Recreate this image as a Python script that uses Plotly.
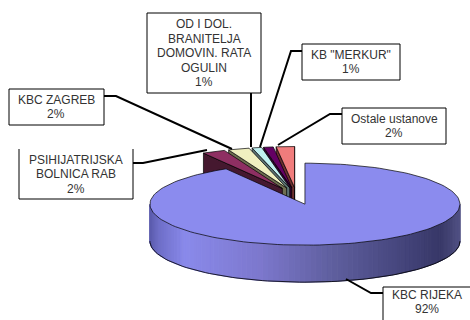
import numpy as np
import plotly.graph_objects as go

# order: clockwise from 12 o'clock
names = ['KBC RIJEKA', 'PSIHIJATRIJSKA<br>BOLNICA RAB', 'KBC ZAGREB', 'OD I DOL.<br>BRANITELJA<br>DOMOVIN. RATA<br>OGULIN', 'KB "MERKUR"', 'Ostale ustanove']
values = [91.5, 2.4, 2.2, 1.0, 1.0, 1.9]
shown = ['92%', '2%', '2%', '1%', '1%', '2%']
top_colors = ['#8B8BEE', '#8E2F62', '#F0F0C0', '#BFF0F0', '#640064', '#F07C7C']
side_colors = ['#6060A0', '#45182F', '#6E6E50', '#5A7070', '#300030', '#6E3030']

# pie geometry on the page
cx, cy = 296.5, 196
rx, ry = 155, 41
depth = 37
explode = 32

# label boxes: x0, y0, x1, y1
boxes = [(383, 287, 480, 330), (19, 149, 133, 199), (9, 89, 104, 125), (147, 13, 261, 93), (302, 44, 400, 80), (342, 108, 446, 144)]
text_x = [427, 76, 56, 204, 351, 394]
leaders = [
    ([383, 371, 346], [293, 293, 279]),
    ([133, 143, 207], [163, 163, 150]),
    ([104, 116, 232], [96, 96, 149]),
    ([251, 251], [93, 147]),
    ([302, 291, 260], [51, 51, 147]),
    ([342, 330, 278], [114, 114, 145]),
]

# rim shading left to right
shade_x = [149, 158, 185, 260, 330, 400, 440, 458]
shade_r = [90, 110, 138, 125, 96, 70, 56, 80]
shade_g = [90, 110, 138, 120, 96, 70, 56, 80]
shade_b = [170, 200, 235, 205, 160, 125, 104, 130]


def pt(angle, centre, r=1.0):
    a = np.radians(angle)
    return centre[0] + r * rx * np.sin(a), centre[1] - r * ry * np.cos(a)


fig = go.Figure()


def poly(xs, ys, fill, line='black', width=0.7):
    fig.add_trace(go.Scatter(x=xs, y=ys, mode='lines', fill='toself', fillcolor=fill,
                             line=dict(color=line, width=width), hoverinfo='skip', showlegend=False))


edges = np.cumsum([0] + values) * 360 / sum(values)
centres = []
for i in range(len(values)):
    mid = np.radians((edges[i] + edges[i + 1]) / 2)
    centres.append((cx + explode * np.sin(mid), cy - explode * np.cos(mid) * ry / rx))

# small slices, from the right one to the left one
for i in range(len(values) - 1, 0, -1):
    c = centres[i]
    ex, ey = pt(edges[i], c)
    poly([c[0], ex, ex, c[0], c[0]], [c[1], ey, ey + depth, c[1] + depth, c[1]], side_colors[i])
    if i == len(values) - 1:
        ex2, ey2 = pt(edges[i + 1], c)
        poly([c[0], ex2, ex2, c[0], c[0]], [c[1], ey2, ey2 + depth, c[1] + depth, c[1]], side_colors[i])
    ang = np.linspace(edges[i], edges[i + 1], 12)
    rim = [pt(a, c) for a in ang]
    poly([c[0]] + [p[0] for p in rim] + [c[0]], [c[1]] + [p[1] for p in rim] + [c[1]], top_colors[i])

# big slice: rim first, then the top
c = centres[0]
steps = np.linspace(90, 270, 91)
for a0, a1 in zip(steps[:-1], steps[1:]):
    x0, y0 = pt(a0, c)
    x1, y1 = pt(a1, c)
    xm = (x0 + x1) / 2
    col = 'rgb(%d,%d,%d)' % (np.interp(xm, shade_x, shade_r), np.interp(xm, shade_x, shade_g), np.interp(xm, shade_x, shade_b))
    poly([x0, x1, x1, x0, x0], [y0, y1, y1 + depth, y0 + depth, y0], col, line=col, width=1)

bottom = [pt(a, c) for a in steps]
fig.add_trace(go.Scatter(x=[p[0] for p in bottom], y=[p[1] + depth for p in bottom], mode='lines',
                         line=dict(color='black', width=0.8), hoverinfo='skip', showlegend=False))

ang = np.linspace(edges[0], edges[1], 150)
rim = [pt(a, c) for a in ang]
poly([c[0]] + [p[0] for p in rim] + [c[0]], [c[1]] + [p[1] for p in rim] + [c[1]], top_colors[0])

shapes = []
for lx, ly in leaders:
    path = 'M ' + ' L '.join('%g,%g' % p for p in zip(lx, ly))
    shapes.append(dict(type='path', path=path, line=dict(color='black', width=2)))
for idx, (x0, y0, x1, y1) in enumerate(boxes):
    if idx == 1:
        # this box has no top edge in the original
        shapes.append(dict(type='path', path='M %g,%g L %g,%g L %g,%g L %g,%g' % (x0, y0, x0, y1, x1, y1, x1, y0),
                           fillcolor='white', line=dict(color='black', width=1)))
    else:
        shapes.append(dict(type='rect', x0=x0, y0=y0, x1=x1, y1=y1, fillcolor='white', line=dict(color='black', width=1)))

annotations = []
for name, pct, b, tx in zip(names, shown, boxes, text_x):
    lines = (name + '<br>' + pct).split('<br>')
    mid = (b[1] + (b[3] if b[3] < 320 else 320 - 1)) / 2 + (0 if b[3] < 320 else -1)
    for k, line in enumerate(lines):
        annotations.append(dict(x=tx, y=mid + (k - (len(lines) - 1) / 2) * 14.5, text=line, showarrow=False,
                                xanchor='center', yanchor='middle', align='center',
                                font=dict(family='Liberation Sans', size=12, color='#333333')))

fig.update_layout(width=470, height=320, margin=dict(l=0, r=0, t=0, b=0),
                  paper_bgcolor='white', plot_bgcolor='white', showlegend=False,
                  shapes=shapes, annotations=annotations,
                  xaxis=dict(range=[0, 470], visible=False, fixedrange=True),
                  yaxis=dict(range=[320, 0], visible=False, fixedrange=True))

fig.write_html("out.html", config=dict(displayModeBar=False),
               post_script="document.body.style.margin='0';document.body.style.overflow='hidden';")
